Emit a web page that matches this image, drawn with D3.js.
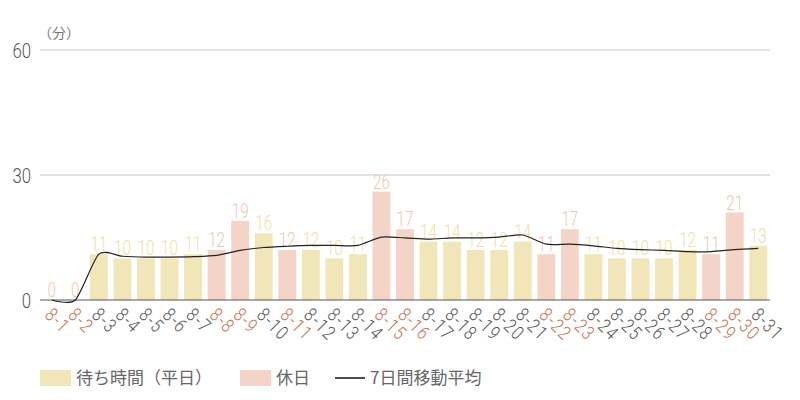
<!DOCTYPE html>
<html>
<head>
<meta charset="utf-8">
<script src="https://cdn.jsdelivr.net/npm/d3@7"></script>
<style>
  body { margin: 0; background: #fff; }
  .cond { font-family: Roboto, "Liberation Sans", sans-serif; font-weight: 300; }
  .jp { font-family: "Noto Sans CJK JP", "Noto Sans", sans-serif; }
</style>
</head>
<body>
<svg id="chart" width="800" height="400"></svg>
<script>
// 8月の日付
const days = ["8-1","8-2","8-3","8-4","8-5","8-6","8-7","8-8","8-9","8-10","8-11","8-12","8-13","8-14","8-15","8-16",
  "8-17","8-18","8-19","8-20","8-21","8-22","8-23","8-24","8-25","8-26","8-27","8-28","8-29","8-30","8-31"];
// 待ち時間（分）
const waits = [0,0,11,10,10,10,11,12,19,16,12,12,10,11,26,17,14,14,12,12,14,11,17,11,10,10,10,12,11,21,13];
// 休日
const holidays = ["8-1","8-2","8-8","8-9","8-11","8-15","8-16","8-22","8-23","8-29","8-30"];
// 7日間移動平均
const movingAvg = [0,0,11.0,10.5,10.3,10.3,10.4,10.7,11.9,12.6,12.9,13.1,13.1,13.1,15.1,14.9,
  14.6,14.9,14.9,15.1,15.6,13.4,13.4,13.0,12.4,12.1,11.9,11.6,11.6,12.1,12.4];
const yTicks = [0, 30, 60];

const svg = d3.select("#chart");
const mLeft = 40, mRight = 770, mTop = 50, mBottom = 300;

const x = d3.scaleBand().domain(days).range([mLeft, mRight]).paddingInner(0.24).paddingOuter(0.12);
const y = d3.scaleLinear().domain([0, 60]).range([mBottom, mTop]);

const isHoliday = d => holidays.includes(d);
const barColor = d => isHoliday(d) ? "#f5d4c8" : "#f0e6b8";
const labelColor = d => isHoliday(d) ? "#f1c4b2" : "#eee0a6";
const cx = d => x(d) + x.bandwidth() / 2;

// grid
svg.append("g").selectAll("line")
  .data(yTicks.filter(t => t > 0))
  .join("line")
  .attr("x1", mLeft).attr("x2", mRight)
  .attr("y1", d => y(d)).attr("y2", d => y(d))
  .attr("stroke", "#c8c8c8").attr("stroke-width", 1);

svg.append("g").selectAll("text")
  .data(yTicks)
  .join("text")
  .attr("class", "cond")
  .attr("transform", d => `translate(31,${y(d)}) scale(0.8,1)`)
  .attr("dy", "0.36em")
  .attr("text-anchor", "end")
  .attr("font-size", 21)
  .attr("font-weight", 400)
  .attr("fill", "#555")
  .text(d => d);

svg.append("text")
  .attr("class", "jp")
  .attr("x", 38).attr("y", 38)
  .attr("font-size", 14)
  .attr("fill", "#777")
  .text("（分）");

// bars
svg.append("g").selectAll("rect")
  .data(days)
  .join("rect")
  .attr("x", d => x(d))
  .attr("width", x.bandwidth())
  .attr("y", (d, i) => y(waits[i]))
  .attr("height", (d, i) => y(0) - y(waits[i]))
  .attr("fill", barColor);

svg.append("g").selectAll("text")
  .data(days)
  .join("text")
  .attr("class", "cond")
  .attr("transform", (d, i) => `translate(${cx(d)},${y(waits[i]) - 3}) scale(0.76,1)`)
  .attr("text-anchor", "middle")
  .attr("font-size", 20)
  .attr("font-weight", 400)
  .attr("fill", labelColor)
  .text((d, i) => waits[i]);

// baseline
svg.append("line")
  .attr("x1", mLeft).attr("x2", mRight)
  .attr("y1", y(0)).attr("y2", y(0))
  .attr("stroke", "#555").attr("stroke-width", 1.2);

// moving average
const line = d3.line()
  .x((d, i) => cx(days[i]))
  .y(d => y(d))
  .curve(d3.curveCardinal.tension(0.3));

svg.append("path")
  .datum(movingAvg)
  .attr("d", line)
  .attr("fill", "none")
  .attr("stroke", "#222")
  .attr("stroke-width", 1.2);

// x tick labels
svg.append("g").selectAll("text")
  .data(days)
  .join("text")
  .attr("class", "cond")
  .attr("transform", d => `translate(${cx(d) - 8},${y(0) + 16}) rotate(45) scale(0.82,1)`)
  .attr("font-size", 19)
  .attr("font-weight", 400)
  .attr("letter-spacing", 1.8)
  .attr("fill", d => isHoliday(d) ? "#c8714f" : "#555")
  .text(d => d);

// legend
const legend = svg.append("g").attr("class", "jp").attr("font-size", 17).attr("fill", "#666");
legend.append("rect").attr("x", 40).attr("y", 370).attr("width", 31).attr("height", 16).attr("fill", "#f0e6b8");
legend.append("text").attr("x", 76).attr("y", 384).text("待ち時間（平日）");
legend.append("rect").attr("x", 240).attr("y", 370).attr("width", 31).attr("height", 16).attr("fill", "#f5d4c8");
legend.append("text").attr("x", 276).attr("y", 384).text("休日");
legend.append("line").attr("x1", 335).attr("x2", 365).attr("y1", 378).attr("y2", 378).attr("stroke", "#111").attr("stroke-width", 1.5);
legend.append("text").attr("x", 370).attr("y", 384).text("7日間移動平均");
</script>
</body>
</html>
